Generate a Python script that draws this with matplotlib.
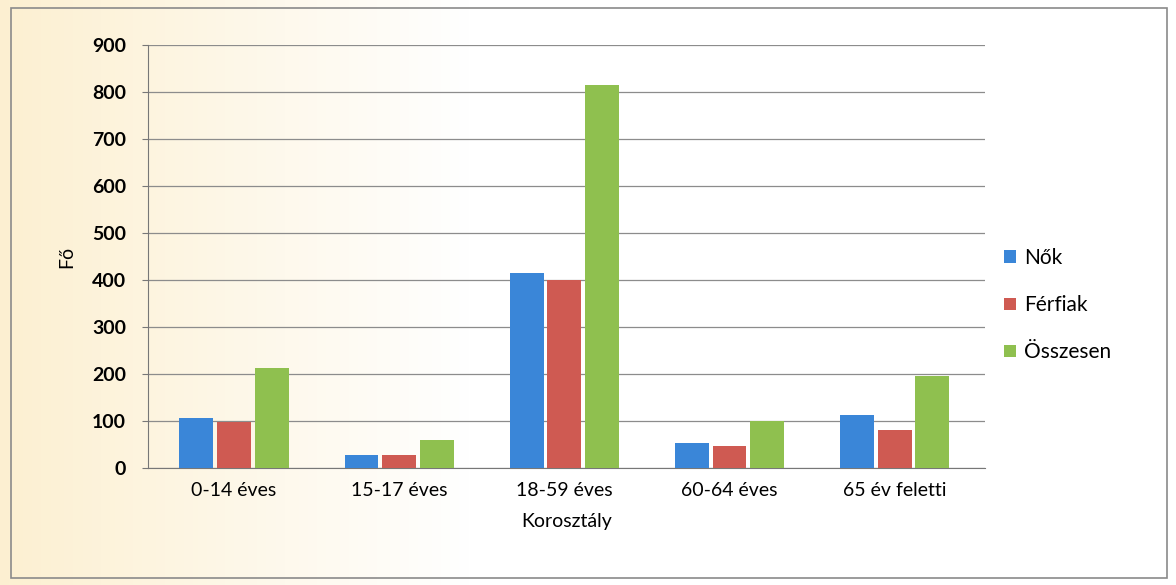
import numpy as np
import matplotlib.pyplot as plt
from matplotlib.patches import Rectangle

# ---------------------- Data

categories = ['0-14 éves', '15-17 éves', '18-59 éves', '60-64 éves', '65 év feletti']
noknArray = [106, 27, 415, 53, 113]
ferfiakArray = [98, 28, 400, 46, 81]
osszesenArray = [212, 60, 815, 100, 196]
seriesNames = ['Nők', 'Férfiak', 'Összesen']

# ---------------------- Style

plt.rcParams['font.family'] = ['Lato', 'DejaVu Sans']
colorBlue = '#3a86d8'
colorRed = '#cf5a52'
colorGreen = '#8fc04f'

fig = plt.figure(figsize=(11.76, 5.85), dpi=100)

# background: faint beige on the left fading to white
bg = fig.add_axes([0, 0, 1, 1], zorder=-10)
grad = np.linspace(0, 1, 256)
grad = np.clip(grad * 2.5, 0, 1)
img = np.ones((2, 256, 3))
beige = np.array([0.99, 0.94, 0.82])
for i in range(256):
    img[:, i, :] = beige * (1 - grad[i]) + np.array([1, 1, 1]) * grad[i]
bg.imshow(img, aspect='auto', extent=[0, 1, 0, 1])
bg.set_axis_off()
fig.patches.append(Rectangle((0.009, 0.012), 0.983, 0.975, transform=fig.transFigure,
                             fill=False, edgecolor='#8a8a8a', linewidth=1.2))

ax = fig.add_axes([0.126, 0.2, 0.712, 0.723])
ax.patch.set_alpha(0)

x = np.arange(len(categories))
width = 0.205
step = 0.228
ax.bar(x - step, noknArray, width, color=colorBlue, label=seriesNames[0], zorder=3)
ax.bar(x, ferfiakArray, width, color=colorRed, label=seriesNames[1], zorder=3)
ax.bar(x + step, osszesenArray, width, color=colorGreen, label=seriesNames[2], zorder=3)

ax.set_ylim(0, 900)
ax.set_xlim(-0.52, 4.55)
ax.set_yticks(range(0, 901, 100))
ax.set_xticks(x)
ax.set_xticklabels(categories, fontsize=14)
ax.tick_params(axis='y', labelsize=14, length=4, color='#777777', pad=12)
ax.tick_params(axis='x', length=0, pad=10)
for lab in ax.get_yticklabels():
    lab.set_fontweight('bold')
ax.grid(axis='y', color='#8c8c8c', linewidth=0.9, zorder=0)
for s in ['top', 'right']:
    ax.spines[s].set_visible(False)
ax.spines['left'].set_color('#777777')
ax.spines['bottom'].set_color('#777777')

ax.set_xlabel('Korosztály', fontsize=14, labelpad=10)
ax.set_ylabel('Fő', fontsize=14, labelpad=12)

ax.legend(loc='center left', bbox_to_anchor=(1.0, 0.385), frameon=False, fontsize=15,
          handlelength=0.55, handleheight=0.55, handletextpad=0.4, labelspacing=1.3)

plt.savefig('out.png', dpi=100)
